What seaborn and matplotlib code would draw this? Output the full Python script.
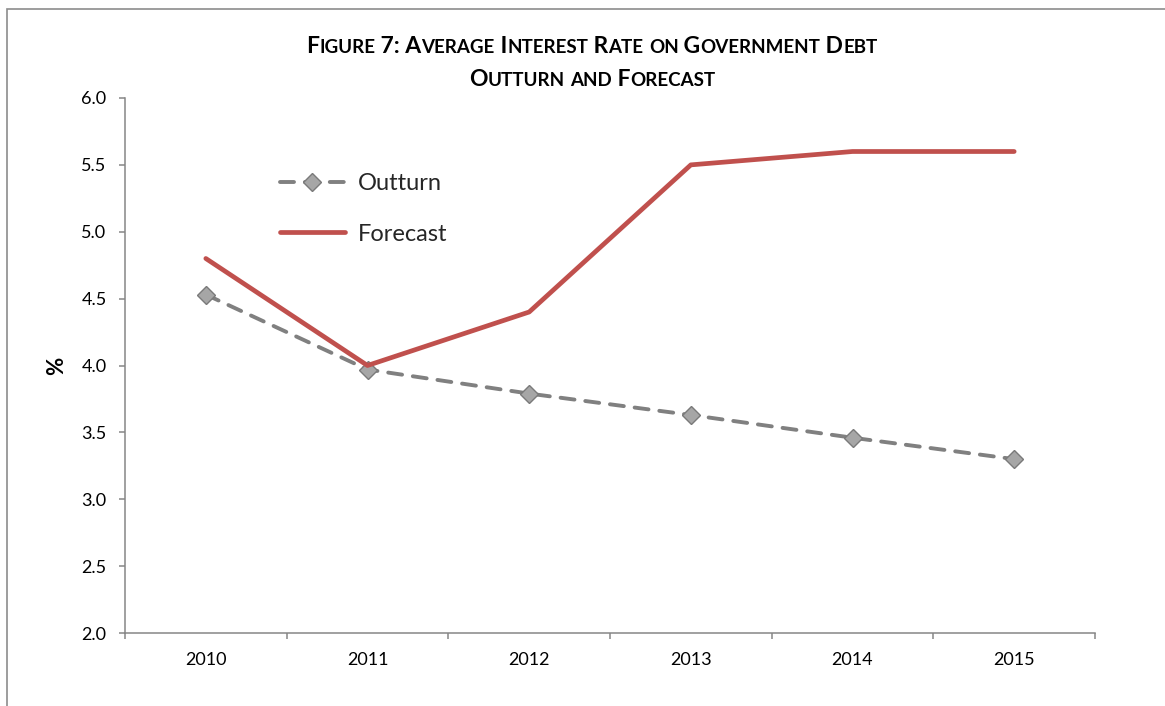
import matplotlib
matplotlib.use("Agg")
import matplotlib.pyplot as plt
import seaborn as sns
import pandas as pd
from matplotlib.patches import Rectangle
from matplotlib.ticker import FixedLocator, NullFormatter, FormatStrFormatter

# data
years = [2010, 2011, 2012, 2013, 2014, 2015]
outturn = [4.53, 3.97, 3.79, 3.63, 3.46, 3.30]
forecast = [4.80, 4.00, 4.40, 5.50, 5.60, 5.60]
y_ticks = [2.0, 2.5, 3.0, 3.5, 4.0, 4.5, 5.0, 5.5, 6.0]
title_lines = ["Figure 7: Average Interest Rate on Government Debt",
               "Outturn and Forecast"]

df = pd.DataFrame({"year": years, "Outturn": outturn, "Forecast": forecast})

sns.set_theme(style="white")
plt.rcParams["font.family"] = ["Lato", "DejaVu Sans"]

W, H = 1165, 706
AXIS_GREY = "#868686"
fig = plt.figure(figsize=(W / 100, H / 100), dpi=100)
ax = fig.add_axes([125 / W, 1 - 633 / H, 970 / W, 535 / H])

sns.lineplot(data=df, x="year", y="Outturn", ax=ax, label="Outturn",
             color="#808080", linewidth=2.8, marker="D", markersize=9.6,
             markerfacecolor="#A6A6A6", markeredgecolor="#7A7A7A",
             markeredgewidth=1.0)
ax.lines[-1].set_linestyle((0, (3.6, 2.8)))
ax.lines[-1].set_dash_capstyle("round")

sns.lineplot(data=df, x="year", y="Forecast", ax=ax, label="Forecast",
             color="#C0504D", linewidth=3.4)
ax.lines[-1].set_solid_capstyle("round")

# axes
ax.set_xlim(2009.5, 2015.5)
ax.set_ylim(2.0, 6.0)
ax.xaxis.set_major_locator(FixedLocator([y - 0.5 for y in years] + [2015.5]))
ax.xaxis.set_major_formatter(NullFormatter())
ax.xaxis.set_minor_locator(FixedLocator(years))
ax.set_xticklabels([str(y) for y in years], minor=True)
ax.set_yticks(y_ticks)
ax.yaxis.set_major_formatter(FormatStrFormatter("%.1f"))

for side in ["top", "right"]:
    ax.spines[side].set_visible(False)
for side in ["left", "bottom"]:
    ax.spines[side].set_color(AXIS_GREY)
    ax.spines[side].set_linewidth(1.1)

ax.tick_params(axis="both", which="major", direction="out", length=4.3,
               width=1.1, color=AXIS_GREY, labelsize=13, labelcolor="black")
ax.tick_params(axis="y", which="major", pad=9, left=True)
ax.tick_params(axis="x", which="major", bottom=True)
ax.tick_params(axis="x", which="minor", length=0, pad=14, labelsize=13,
               labelcolor="black", bottom=True)

ax.set_xlabel("")
ax.set_ylabel("%", fontsize=16, fontweight="bold", color="black")
ax.yaxis.set_label_coords((67 - 125) / 970, 0.5)

ax.legend(loc="upper left", bbox_to_anchor=(280 / W, 1 - 173 / H),
          bbox_transform=fig.transFigure, frameon=False, fontsize=17,
          handlelength=2.75, handletextpad=0.55, labelspacing=1.25,
          borderpad=0, borderaxespad=0)

# outer frame of the chart
fig.patches.append(Rectangle((7 / W, -0.1), 1.2, 1.1 - 9 / H,
                             transform=fig.transFigure, fill=False,
                             edgecolor="#8C8C8C", linewidth=1.2))


def small_caps(text, y_px, cx_px, big, small):
    runs = []
    for ch in text:
        size = small if ch.islower() else big
        if runs and runs[-1][1] == size:
            runs[-1][0] += ch.upper()
        else:
            runs.append([ch.upper(), size])
    renderer = fig.canvas.get_renderer()
    widths = []
    for s, size in runs:
        a = fig.text(0, 0, "|" + s + "|", fontsize=size, fontweight="bold")
        b = fig.text(0, 0, "||", fontsize=size, fontweight="bold")
        widths.append(a.get_window_extent(renderer).width
                      - b.get_window_extent(renderer).width)
        a.remove()
        b.remove()
    x = cx_px - sum(widths) / 2
    for (s, size), w in zip(runs, widths):
        fig.text(x / W, 1 - y_px / H, s, fontsize=size, fontweight="bold",
                 ha="left", va="baseline", color="black")
        x += w


small_caps(title_lines[0], 53, 592, 16.5, 13.5)
small_caps(title_lines[1], 86, 592, 16.5, 13.5)

fig.savefig("out.png", dpi=100)
